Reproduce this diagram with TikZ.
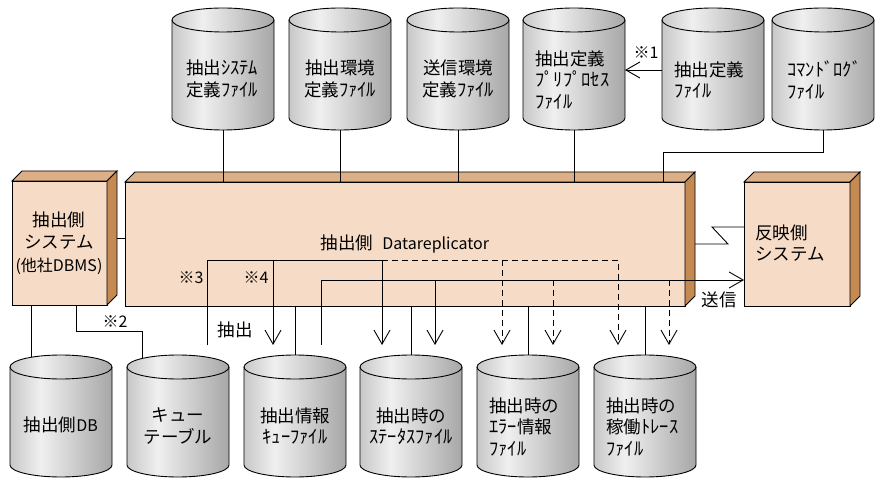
\documentclass[tikz,border=0pt]{standalone}
\usepackage{fontspec}
\setmainfont{Noto Sans CJK JP}
\usetikzlibrary{arrows.meta}

\definecolor{boxfront}{HTML}{F6DCC7}
\definecolor{boxtop}{HTML}{DDAF86}
\definecolor{boxside}{HTML}{C58A52}
\pgfdeclarehorizontalshading{drumgray}{100bp}{color(0bp)=(black!48); color(40bp)=(black!6); color(100bp)=(black!55)}

% half-width kana run, latin run
\newcommand{\hw}[1]{{\fontsize{18.5}{21}\selectfont #1}}
\newcommand{\lt}[1]{{\fontsize{16}{21}\selectfont #1}}
% drum: left x, top y, name
\newcommand{\drum}[3]{%
  \shadedraw[shading=drumgray] (#1,#2+12) -- (#1,#2+110)
    arc[start angle=180,end angle=360,x radius=51pt,y radius=12pt] -- (#1+102,#2+12)
    arc[start angle=0,end angle=180,x radius=51pt,y radius=12pt] -- cycle;
  \draw (#1,#2+12) arc[start angle=180,end angle=360,x radius=51pt,y radius=12pt];
  \coordinate (#3-t) at (#1+51,#2);
  \coordinate (#3-b) at (#1+51,#2+122);
  \coordinate (#3-w) at (#1,#2+62);
  \coordinate (#3-e) at (#1+102,#2+62);
}
% top and side faces of a box
\newcommand{\crateback}[1]{%
  \filldraw[fill=boxtop] (#1.north west) -- ++(10,-10) -- ([shift={(10,-10)}]#1.north east) -- (#1.north east) -- cycle;
  \filldraw[fill=boxside] (#1.north east) -- ++(10,-10) -- ([shift={(10,-10)}]#1.south east) -- (#1.south east) -- cycle;
}

\begin{document}
\begin{tikzpicture}[x=1pt,y=-1pt,line width=0.9pt,
  every node/.style={font=\fontsize{17.5}{21.5}\selectfont,inner sep=0pt,align=center},
  crate/.style={draw,fill=boxfront,anchor=north west,outer sep=0pt,minimum height=124pt},
  feed/.style={-{Straight Barb[length=14pt,width=16pt]}},
  dashfeed/.style={feed,dash pattern=on 6pt off 4pt}]
\useasboundingbox (0,0) rectangle (875,478);

% files
\foreach \x/\n in {172/t1,289/t2,407/t3,523/t4,662/t5,772/t6} \drum{\x}{8}{\n};
\foreach \x/\n in {10/b1,127/b2,244/b3,360/b4,477/b5,594/b6} \drum{\x}{355}{\n};

% systems
\node[crate,minimum width=95pt] (src) at (12,181) {};
\node[crate,minimum width=560pt] (main) at (125,182) {};
\node[crate,minimum width=106pt] (dst) at (744,182) {};
\foreach \b in {src,main,dst} \crateback{\b};

% texts
\node (t1-txt) at (222,79) {抽出\hw{ｼｽﾃﾑ}\\定義\hw{ﾌｧｲﾙ}};
\node (t2-txt) at (340,79) {抽出環境\\定義\hw{ﾌｧｲﾙ}};
\node (t3-txt) at (458,79) {送信環境\\定義\hw{ﾌｧｲﾙ}};
\node[anchor=west,align=left] (t4-txt) at (535,80) {抽出定義\\\hw{ﾌﾟﾘﾌﾟﾛｾｽ}\\\hw{ﾌｧｲﾙ}};
\node[anchor=west,align=left] (t5-txt) at (674,80) {抽出定義\\\hw{ﾌｧｲﾙ}};
\node[anchor=west,align=left] (t6-txt) at (787,80) {\hw{ｺﾏﾝﾄﾞﾛｸﾞ}\\\hw{ﾌｧｲﾙ}};
\node (b1-txt) at (61,425) {抽出側\lt{DB}};
\node (b2-txt) at (178,426) {キュー\\テーブル};
\node (b3-txt) at (295,426) {抽出情報\\\hw{ｷｭｰﾌｧｲﾙ}};
\node (b4-txt) at (411,426) {抽出時の\\\hw{ｽﾃｰﾀｽﾌｧｲﾙ}};
\node[anchor=west,align=left] (b5-txt) at (489,427) {抽出時の\\\hw{ｴﾗｰ}情報\\\hw{ﾌｧｲﾙ}};
\node[anchor=west,align=left] (b6-txt) at (606,427) {抽出時の\\稼働\hw{ﾄﾚｰｽ}\\\hw{ﾌｧｲﾙ}};
\node[font=\fontsize{17.5}{22.5}\selectfont] (src-txt) at (59,243) {抽出側\\システム\\\lt{(他社DBMS)}};
\node[anchor=west,align=left] (dst-txt) at (755,243) {反映側\\システム};
\node (main-txt) at (405,244) {抽出側\hspace{9pt}\lt{Datareplicator}};
\node (n1) at (646,53) {\lt{※1}};
\node (n2) at (115,322) {\lt{※2}};
\node (n3) at (191,278) {\lt{※3}};
\node (n4) at (256,278) {\lt{※4}};
\node (ex) at (235,330) {抽出};
\node (tx) at (719,300) {送信};

% links
\foreach \n in {t1,t2,t3,t4} \draw (\n-b) -- (\n-b |- main.north);
\draw (t6-b) -- ++(0,22) -| ([xshift=538pt]main.north west);
\draw[feed] (t5-w) -- (t4-e);
\foreach \n in {b3,b4,b5,b6} \draw (\n-t |- main.south) -- (\n-t);
\draw ([xshift=19pt]src.south west) -- ++(0,52);
\draw ([xshift=64pt]src.south west) |- (142,331) -- (142,358);
\draw ([shift={(10,-5)}]src.east) -- ++(8,0);
\draw ([xshift=10pt]main.east) -- ++(33,0) -- ++(-16,-17) -- ([yshift=17pt]dst.west);

% extract / send flows
\draw[feed] (207,345) |- (382,260) -- (382,345);
\draw[feed] (273,260) -- (273,345);
\draw[dashfeed] (382,260) -- (618,260) -- (618,345);
\draw[dashfeed] (502,260) -- (502,345);
\draw[feed] (321,345) |- (dst.west |- 0,280);
\draw[feed] (435,280) -- (435,345);
\draw[dashfeed] (553,280) -- (553,345);
\draw[dashfeed] (669,280) -- (669,345);
\end{tikzpicture}
\end{document}
